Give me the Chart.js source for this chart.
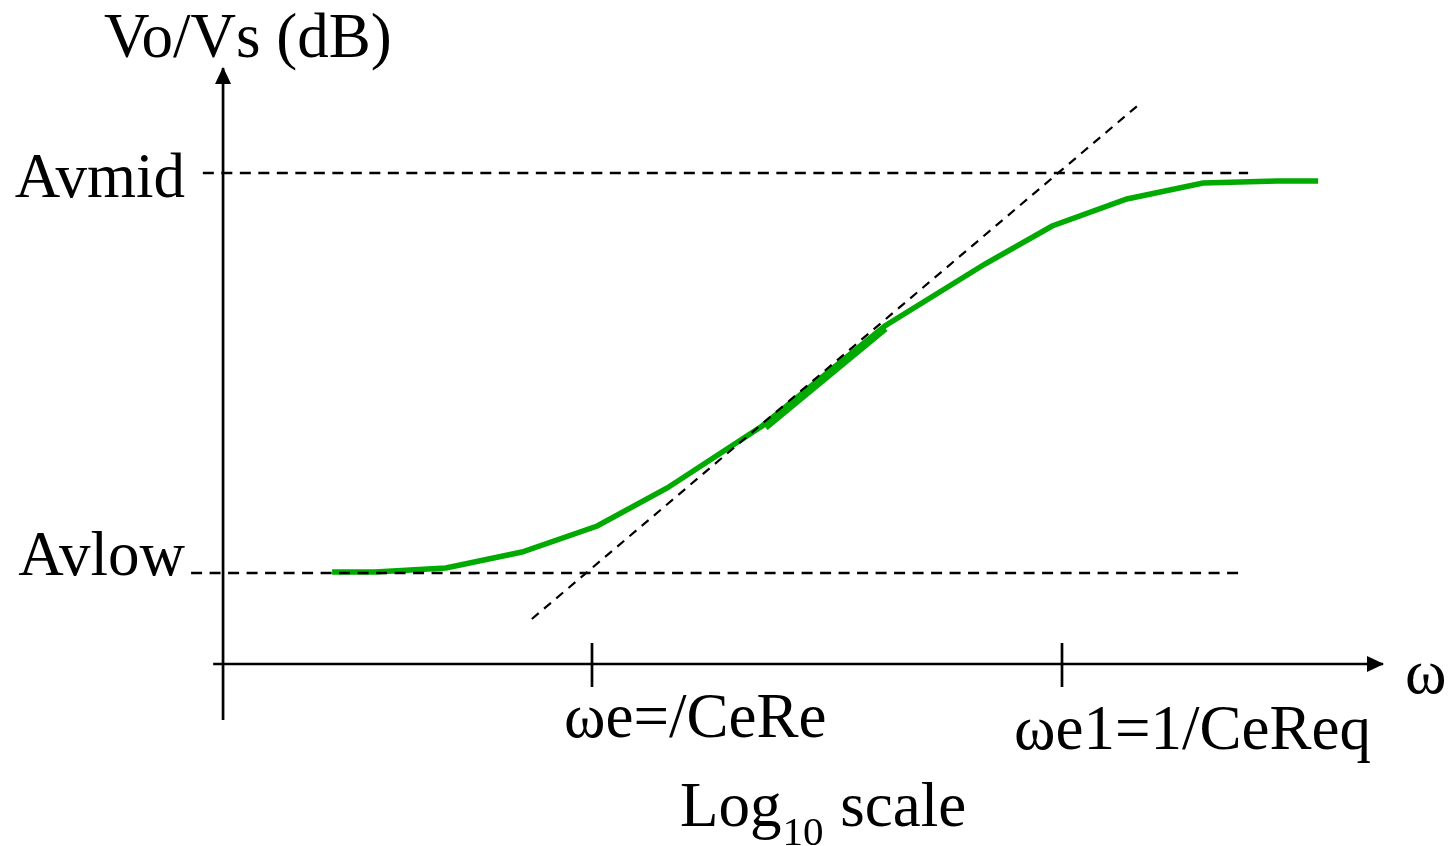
<!DOCTYPE html>
<html>
<head>
<meta charset="utf-8">
<script src="https://cdn.jsdelivr.net/npm/chart.js@4"></script>
<style>
  html, body { margin: 0; padding: 0; background: #fff; }
  #wrap { width: 1455px; height: 846px; position: relative; }
</style>
</head>
<body>
<div id="wrap"><canvas id="myChart"></canvas></div>
<script>
// x is log10(omega) in decades, y is gain in dB
var responseX = [0.447, 0.538, 0.689, 0.851, 1.011, 1.160, 1.362, 1.623, 1.836, 1.979, 2.138, 2.300, 2.457, 2.545];
var responseY = [20.05, 20.05, 20.25, 21.05, 22.35, 24.25, 27.35, 32.35, 35.45, 37.35, 38.7, 39.5, 39.6, 39.6];
// short overlapping stroke on the rising part
var overlapX = [1.37, 1.625];
var overlapY = [27.25, 32.2];

var asymptoteX = [0.872, 2.160];
var asymptoteY = [17.7, 43.35];

var levelValues = [20, 40];
var levelLabels = ["Avlow", "Avmid"];
var levelStartX = [0.147, 0.172];
var levelEndX = [2.379, 2.396];

var tickValues = [1, 2];
var tickLabels = ["ωe=/CeRe", "ωe1=1/CeReq"];

var yAxisX = 0.215;
var yAxisRange = [12.65, 45.25];
var xAxisY = 15.45;
var xAxisRange = [0.194, 2.683];
var tickRange = [16.5, 14.3];

var yTitle = "Vo/Vs (dB)";
var xSymbol = "ω";
var xTitle = ["Log", "10", " scale"];

function pts(xs, ys) {
  return xs.map(function (x, i) { return { x: x, y: ys[i] }; });
}

var FONT = '"Liberation Serif", "Times New Roman", serif';

var datasets = [];

// dashed levels
levelValues.forEach(function (v, i) {
  datasets.push({
    data: [{ x: levelStartX[i], y: v }, { x: levelEndX[i], y: v }],
    borderColor: "#000",
    borderWidth: 2.4,
    borderDash: [11, 7.5],
  });
});

// asymptote
datasets.push({
  data: pts(asymptoteX, asymptoteY),
  borderColor: "#000",
  borderWidth: 2.2,
  borderDash: [9, 7],
});

// axes
datasets.push({
  data: [{ x: yAxisX, y: yAxisRange[0] }, { x: yAxisX, y: yAxisRange[1] }],
  borderColor: "#000",
  borderWidth: 2.7,
  arrowHead: true,
});
datasets.push({
  data: [{ x: xAxisRange[0], y: xAxisY }, { x: xAxisRange[1], y: xAxisY }],
  borderColor: "#000",
  borderWidth: 2.7,
  arrowHead: true,
});
tickValues.forEach(function (t) {
  datasets.push({
    data: [{ x: t, y: tickRange[0] }, { x: t, y: tickRange[1] }],
    borderColor: "#000",
    borderWidth: 2.7,
  });
});

// response curve
datasets.push({
  data: pts(overlapX, overlapY),
  borderColor: "#00aa00",
  borderWidth: 5.5,
});
datasets.push({
  data: pts(responseX, responseY),
  borderColor: "#00aa00",
  borderWidth: 5.5,
});

var arrowPlugin = {
  id: "arrows",
  afterDatasetsDraw: function (chart) {
    var ctx = chart.ctx;
    chart.data.datasets.forEach(function (ds, i) {
      if (!ds.arrowHead) return;
      var el = chart.getDatasetMeta(i).data;
      var a = el[el.length - 2], b = el[el.length - 1];
      var ang = Math.atan2(b.y - a.y, b.x - a.x);
      var len = 16, half = 8;
      ctx.save();
      ctx.translate(b.x, b.y);
      ctx.rotate(ang);
      ctx.beginPath();
      ctx.moveTo(1, 0);
      ctx.lineTo(-len, -half);
      ctx.lineTo(-len, half);
      ctx.closePath();
      ctx.fillStyle = "#000";
      ctx.fill();
      ctx.restore();
    });
  },
};

var labelPlugin = {
  id: "labels",
  afterDraw: function (chart) {
    var ctx = chart.ctx;
    var sx = chart.scales.x, sy = chart.scales.y;
    var big = "63px " + FONT;
    ctx.save();
    ctx.fillStyle = "#000";
    ctx.textBaseline = "alphabetic";
    ctx.font = big;

    // y title
    ctx.textAlign = "left";
    ctx.fillText(yTitle, sx.getPixelForValue(yAxisX) - 119, sy.getPixelForValue(yAxisRange[1]) - 11);

    // level labels
    ctx.textAlign = "right";
    var levelDy = [2, 24];
    levelValues.forEach(function (v, i) {
      ctx.fillText(levelLabels[i], sx.getPixelForValue(yAxisX) - 38, sy.getPixelForValue(v) + levelDy[i]);
    });

    // tick labels
    ctx.textAlign = "left";
    var tickDx = [-28, -48], tickDy = [73, 85];
    tickValues.forEach(function (t, i) {
      ctx.fillText(tickLabels[i], sx.getPixelForValue(t) + tickDx[i], sy.getPixelForValue(xAxisY) + tickDy[i]);
    });

    // omega at axis end
    ctx.fillText(xSymbol, sx.getPixelForValue(xAxisRange[1]) + 22, sy.getPixelForValue(xAxisY) + 29);

    // Log10 scale
    var x0 = 680, base = 826;
    ctx.fillText(xTitle[0], x0, base);
    var w0 = ctx.measureText(xTitle[0]).width;
    ctx.font = "41px " + FONT;
    ctx.fillText(xTitle[1], x0 + w0 + 1, base + 19);
    var w1 = ctx.measureText(xTitle[1]).width;
    ctx.font = big;
    ctx.fillText(xTitle[2], x0 + w0 + w1 + 2, base);
    ctx.restore();
  },
};

var ctx = document.getElementById("myChart");
var myChart = new Chart(ctx, {
  type: "line",
  data: { datasets: datasets },
  options: {
    responsive: true,
    maintainAspectRatio: false,
    animation: false,
    events: [],
    layout: { padding: { left: 4.5, right: 17, top: 3, bottom: 3 } },
    elements: {
      point: { radius: 0 },
      line: { tension: 0, fill: false, borderCapStyle: "butt" },
    },
    plugins: {
      legend: { display: false },
      tooltip: { enabled: false },
    },
    scales: {
      x: { type: "linear", min: -0.25, max: 2.8, display: false },
      y: { type: "linear", min: 6.5, max: 48.5, display: false },
    },
  },
  plugins: [arrowPlugin, labelPlugin],
});
</script>
</body>
</html>
